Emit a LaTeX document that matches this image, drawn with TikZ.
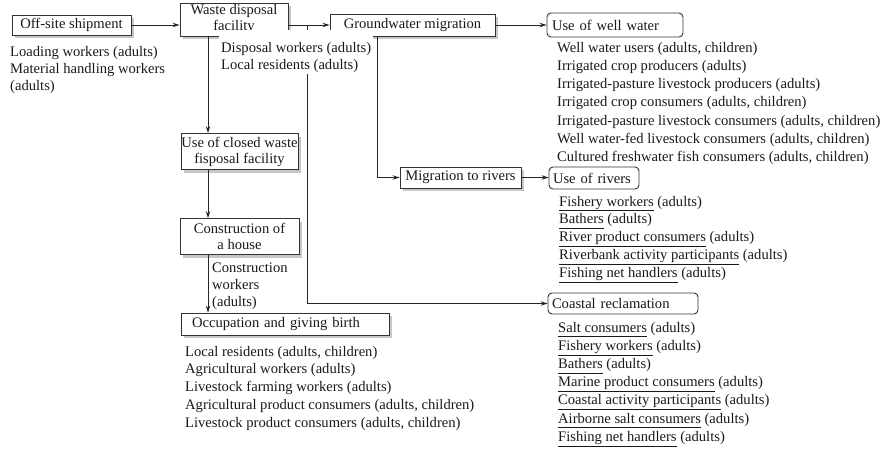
\documentclass[tikz,border=0pt]{standalone}
\usepackage{fontspec}
\setmainfont{Liberation Serif}
\usetikzlibrary{arrows.meta,backgrounds}
% role names are underlined at a common depth
\newcommand\role[1]{\underline{#1\vphantom{y}}}

\begin{document}
\begin{tikzpicture}[x=1pt,y=-1pt,
  every node/.style={font=\fontsize{14.6pt}{17pt}\selectfont, inner sep=0pt, text=black!90},
  box/.style={draw=black!80, line width=0.9pt, fill=white, align=center,
    font=\fontsize{14.6pt}{16pt}\selectfont},
  tab/.style={draw=black!80, line width=0.9pt, fill=white, rounded corners=4pt, align=left},
  conn/.style={draw=black!85, line width=0.9pt, -{Stealth[length=7pt,width=4.5pt]}},
  boxshadow/.style={fill=black!22, draw=none},
  item/.style={anchor=base west},
]
\useasboundingbox (0,0) rectangle (891,450);

% soft shadows, offset down and to the right of each square box
\foreach \cx/\cy/\w/\h in {234/19.5/108/33, 71.5/25/119/20, 412.5/25/165/22,
    239.5/151.5/117/36, 239.5/236.5/119/36, 285/324/208/22, 460.5/177.5/121/21}
  \fill[boxshadow] (\cx-\w/2+3,\cy-\h/2+3) rectangle (\cx+\w/2+3,\cy+\h/2+3);

% process boxes
\node[box, minimum width=108pt, minimum height=33pt] (waste) at (234,19.5) {Waste disposal\\facility};
\node[box, minimum width=119pt, minimum height=20pt] (ship) at (71.5,25) {Off-site shipment};
\node[box, minimum width=165pt, minimum height=22pt] (ground) at (412.5,25) {Groundwater migration};
\node[box, minimum width=117pt, minimum height=36pt] (closed) at (239.5,151.5) {Use of closed waste\\fisposal facility};
\node[box, minimum width=119pt, minimum height=36pt] (house) at (239.5,236.5) {Construction of\\a house};
\node[box, minimum height=22pt, inner xsep=11pt, text width=186pt, align=left] (occ) at (285,324) {Occupation and giving birth};
\node[box, minimum width=121pt, minimum height=21pt] (migr) at (460.5,177.5) {Migration to rivers};

% exposure scenarios (rounded)
\node[tab, minimum height=24pt, inner xsep=5pt, text width=126pt] (well) at (615,25) {Use of well water};
\node[tab, minimum height=22pt, inner xsep=4pt, text width=82pt] (rivers) at (594,178) {Use of rivers};
\node[tab, minimum height=21pt, inner xsep=4pt, text width=142pt] (coast) at (623,303.5) {Coastal reclamation};

% routing points
\coordinate (jw) at (307,25);
\coordinate (colA) at (208,0);
\coordinate (colG) at (377,0);

% connectors
\draw[conn] (ship.east) -- (ship.east -| waste.west);
\draw[conn] (ground.west -| waste.east) -- (ground.west);
\draw[conn] (ground.east) -- (well.west);
\draw[conn] (ground.south -| colG) |- (migr.west);
\draw[conn] (migr.east) -- (migr.east -| rivers.west);
\draw[conn] (jw) |- (coast.west);
\draw[conn] (waste.south -| colA) -- (closed.north -| colA);
\draw[conn] (closed.south -| colA) -- (house.north -| colA);
\draw[conn] (house.south -| colA) -- (occ.north -| colA);

% exposed groups
\foreach \t [count=\i from 0] in {{Loading workers (adults)},{Material handling workers},{(adults)}}
  \node[item] (ship-\i) at (10,56+17*\i) {\t};

\node[fill=white, align=left, anchor=north west, inner xsep=2pt, inner ysep=2pt] (staff) at (219,30)
  {\rule{0pt}{20pt}Disposal workers (adults)\\Local residents (adults)};

\foreach \t [count=\i from 0] in {
  {Well water users (adults, children)},
  {Irrigated crop producers (adults)},
  {Irrigated-pasture livestock producers (adults)},
  {Irrigated crop consumers (adults, children)},
  {Irrigated-pasture livestock consumers (adults, children)},
  {Well water-fed livestock consumers (adults, children)},
  {Cultured freshwater fish consumers (adults, children)}}
  \node[item] (well-\i) at (557,52+18.3*\i) {\t};

\foreach \t [count=\i from 0] in {
  {\role{Fishery workers} (adults)},
  {\role{Bathers} (adults)},
  {\role{River product consumers} (adults)},
  {\role{Riverbank activity participants} (adults)},
  {\role{Fishing net handlers} (adults)}}
  \node[item] (rivers-\i) at (559,206+17.8*\i) {\t};

\foreach \t [count=\i from 0] in {
  {\role{Salt consumers} (adults)},
  {\role{Fishery workers} (adults)},
  {\role{Bathers} (adults)},
  {\role{Marine product consumers} (adults)},
  {\role{Coastal activity participants} (adults)},
  {\role{Airborne salt consumers} (adults)},
  {\role{Fishing net handlers} (adults)}}
  \node[item] (coast-\i) at (558,332+18.2*\i) {\t};

\foreach \t [count=\i from 0] in {
  {Local residents (adults, children)},
  {Agricultural workers (adults)},
  {Livestock farming workers (adults)},
  {Agricultural product consumers (adults, children)},
  {Livestock product consumers (adults, children)}}
  \node[item] (occ-\i) at (185,356+17.8*\i) {\t};

\foreach \t [count=\i from 0] in {Construction,workers,(adults)}
  \node[item] (house-\i) at (212,272+17.2*\i) {\t};
\end{tikzpicture}
\end{document}
